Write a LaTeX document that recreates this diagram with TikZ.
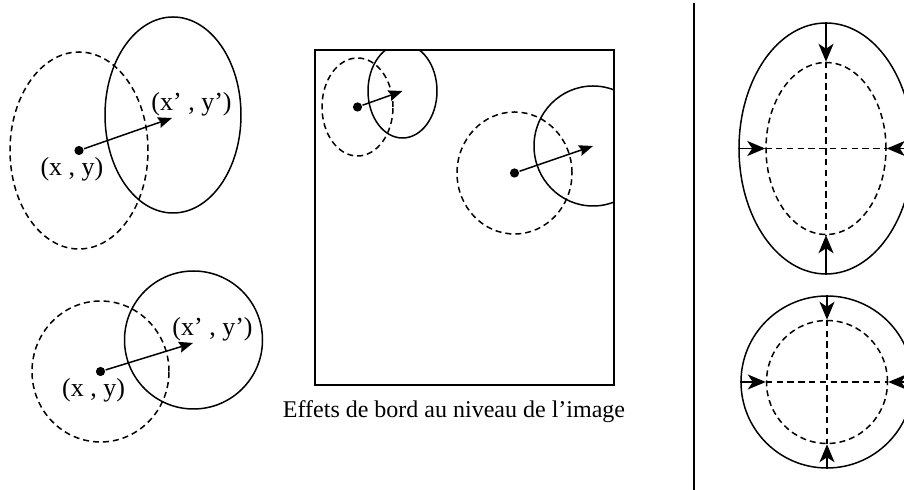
\documentclass[tikz,border=0pt]{standalone}
\usepackage{fontspec}
\setmainfont{Liberation Serif}
\usetikzlibrary{arrows.meta, positioning, shapes.geometric}

\begin{document}
\begin{tikzpicture}[x=0.5pt, y=-0.5pt, font=\fontsize{12}{15}\selectfont,
    >={Stealth[length=7pt, width=5.5pt, inset=1pt]}, line width=0.75pt,
    win/.style={ellipse, draw, inner sep=0pt},
    oldwin/.style={win, dash pattern=on 3pt off 2pt},
    cross/.style={dash pattern=on 3.2pt off 2.2pt},
    shrink/.style={-{Stealth[length=9pt, width=7.5pt, inset=2.5pt]}},
    coordlabel/.style={anchor=base, font=\fontsize{13}{15}\selectfont},
    centerdot/.style={circle, fill, inner sep=0pt, minimum size=4.6pt}]
  \clip (0,0) rectangle (904,490);
  % Left: window moved from (x,y) to (x',y')
  \foreach \n/\ax/\ay/\aw/\ah/\bx/\by/\bw/\bh/\tx/\ty in {
      a/79/150.5/69/98.5/173/115/68/98/172/118,
      b/100.5/371.5/68.5/70.5/193.5/340/69/69/193/343}{
    \node[oldwin, minimum width=\aw pt, minimum height=\ah pt] (old\n) at (\ax,\ay) {};
    \node[win, minimum width=\bw pt, minimum height=\bh pt] (new\n) at (\bx,\by) {};
    \node[centerdot] (from\n) at (\ax,\ay) {};
    \coordinate (to\n) at (\tx,\ty);
    \draw[->] (from\n) -- (to\n);
    \node[coordlabel] (xy\n) at (\ax-7,\ay+25) {(x , y)};
    \node[coordlabel] (xyp\n) at (\tx+19.5,\ty-7) {(x’ , y’)};
  }
  % Middle: border effects
  \node[minimum width=148.5pt, minimum height=166.5pt, inner sep=0pt] (frame) at (464.5,217.5) {};
  \begin{scope}
    \clip (frame.south west) rectangle (frame.north east);
    \foreach \n/\ax/\ay/\aw/\ah/\bx/\by/\bw/\bh in {
        c/357.5/107/35.5/49/402.5/91/34.5/47,
        d/514.5/173/57.5/61/593/146/59/60}{
      \node[oldwin, minimum width=\aw pt, minimum height=\ah pt] (old\n) at (\ax,\ay) {};
      \node[win, minimum width=\bw pt, minimum height=\bh pt] (new\n) at (\bx,\by) {};
      \node[centerdot] (from\n) at (\ax,\ay) {};
      \coordinate (to\n) at (\bx,\by);
      \draw[->] (from\n) -- (to\n);
    }
  \end{scope}
  \draw[line width=1pt] (frame.south west) rectangle (frame.north east);
  \node[anchor=base] (caption) at (454,418) {Effets de bord au niveau de l’image};
  % Right: shrinking windows
  \draw[line width=0.6pt] (694,3) -- (694,490);
  \foreach \n/\cx/\cy/\ow/\oh/\iw/\ih in {
      e/826/148.5/87/125.5/60/86,
      f/827/382/86/86/60.5/61.5}{
    \node[win, minimum width=\ow pt, minimum height=\oh pt] (out\n) at (\cx,\cy) {};
    \node[oldwin, minimum width=\iw pt, minimum height=\ih pt] (in\n) at (\cx,\cy) {};
    \draw[cross] (in\n.west) -- (in\n.east) (in\n.north) -- (in\n.south);
    \foreach \s in {north,south,east,west}
      \draw[shrink] (out\n.\s) -- (in\n.\s);
  }
\end{tikzpicture}
\end{document}
